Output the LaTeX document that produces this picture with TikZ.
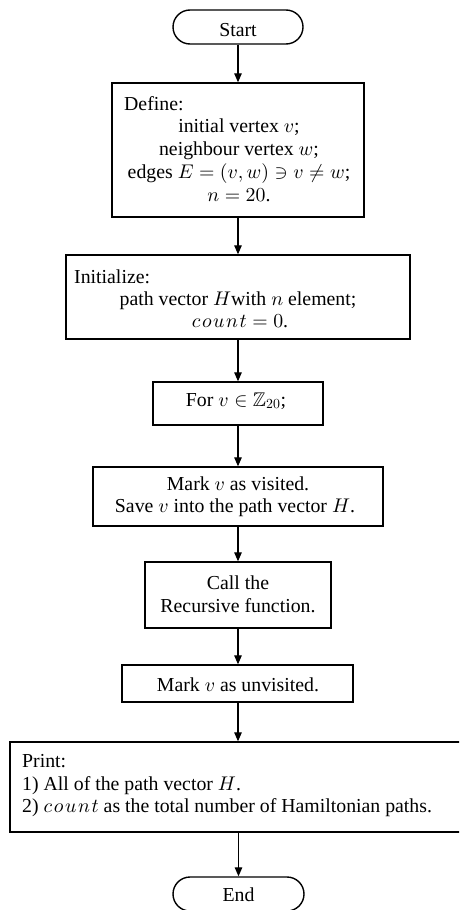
\documentclass[tikz,border=0pt]{standalone}
\usepackage{amssymb}
\usepackage{fontspec}
\setmainfont{Liberation Serif}
\usetikzlibrary{arrows.meta}
\DeclareFontFamily{OML}{cmm}{\skewchar\font127 }
\DeclareFontShape{OML}{cmm}{m}{it}{<-> cmmi10}{}
\DeclareFontFamily{OMS}{cmsy}{\skewchar\font48 }
\DeclareFontShape{OMS}{cmsy}{m}{n}{<-> cmsy10}{}
\DeclareFontFamily{OT1}{cmr}{\hyphenchar\font45 }
\DeclareFontShape{OT1}{cmr}{m}{n}{<-> cmr10}{}
\DeclareFontFamily{U}{msb}{}
\DeclareFontShape{U}{msb}{m}{n}{<-> msbm10}{}
\newcommand{\cnt}{c\mkern1.5mu o\mkern1.5mu u\mkern1.5mu n\mkern1.5mu t}
\tikzset{
  box/.style={draw, line width=1.4pt, inner sep=0pt, rectangle},
  term/.style={box, rounded corners=17pt},
  txt/.style={inner sep=0pt, font=\fontsize{19.8}{22}\selectfont},
  arr/.style={line width=1.3pt, -{Triangle[length=9pt,width=7.5pt]}},
}
\begin{document}
\begin{tikzpicture}[x=1pt,y=-1pt]
\clip (0,0) rectangle (459,910);
\fill[white] (0,0) rectangle (459,910);
% boxes
\node[term, minimum width=130pt, minimum height=34pt] (start) at (238,27) {};
\node[box, minimum width=252pt, minimum height=134pt] (define) at (238,150) {};
\node[box, minimum width=344pt, minimum height=84pt] (init) at (238,297) {};
\node[box, minimum width=170pt, minimum height=43pt] (for) at (238,403.5) {};
\node[box, minimum width=290pt, minimum height=59pt] (markv) at (238,496.5) {};
\node[box, minimum width=186pt, minimum height=66pt] (call) at (238,595) {};
\node[box, minimum width=231pt, minimum height=37pt] (marku) at (237.5,683.5) {};
\node[box, minimum width=465pt, minimum height=90pt] (print) at (242.5,787) {};
\node[term, minimum width=131pt, minimum height=34pt] (end) at (238.5,894) {};
% texts
\node[txt, anchor=base] (tstart) at (238,36.5) {Start};
\node[txt, anchor=base west] (tdef0) at (124,110) {Define:};
\node[txt, anchor=base] (tdef1) at (239,132) {initial vertex $v$;};
\node[txt, anchor=base] (tdef2) at (239,155) {neighbour vertex $w$;};
\node[txt, anchor=base] (tdef3) at (239,178) {edges $E=(v,w)\ni v\neq w$;};
\node[txt, anchor=base] (tdef4) at (239,201) {$n=20$.};
\node[txt, anchor=base west] (tini0) at (74,283) {Initialize:};
\node[txt, anchor=base] (tini1) at (238,305) {path vector $H$with $n$ element;};
\node[txt, anchor=base] (tini2) at (240,327) {$\cnt=0$.};
\node[txt, anchor=base] (tfor) at (236,406) {For $v\in\mathbb{Z}_{20}$;};
\node[txt, anchor=base] (tmv1) at (238,490) {Mark $v$ as visited.};
\node[txt, anchor=base] (tmv2) at (235,512) {Save $v$ into the path vector $H$.};
\node[txt, anchor=base] (tcall1) at (238,589) {Call the};
\node[txt, anchor=base] (tcall2) at (238,612) {Recursive function.};
\node[txt, anchor=base] (tmu) at (238,691) {Mark $v$ as unvisited.};
\node[txt, anchor=base west] (tpr0) at (22,767) {Print:};
\node[txt, anchor=base west] (tpr1) at (22,790) {1) All of the path vector $H$.};
\node[txt, anchor=base west] (tpr2) at (22,812) {2) $\cnt$ as the total number of Hamiltonian paths.};
\node[txt, anchor=base] (tend) at (238.5,901) {End};
% connectors
\draw[arr] (start.south) -- (start.south |- define.north);
\draw[arr] (define.south) -- (define.south |- init.north);
\draw[arr] (init.south) -- (for.north);
\draw[arr] (for.south) -- (for.south |- markv.north);
\draw[arr] (markv.south) -- (markv.south |- call.north);
\draw[arr] (call.south) -- (call.south |- marku.north);
\draw[arr] (marku.south -| call.south) -- (call.south |- print.north);
\draw[arr] (end.north |- print.south) -- (end.north);
\end{tikzpicture}
\end{document}
